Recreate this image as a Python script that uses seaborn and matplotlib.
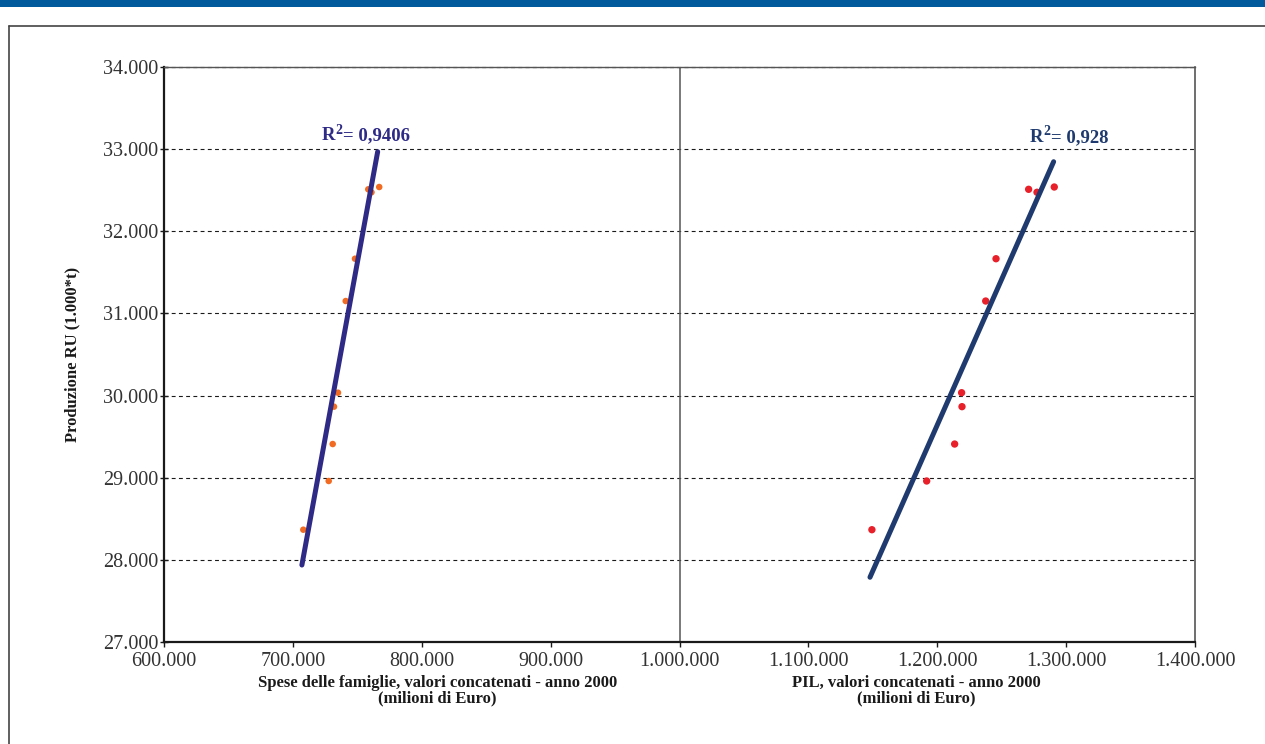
import matplotlib
matplotlib.use("Agg")
import matplotlib.pyplot as plt
from matplotlib.ticker import FuncFormatter, MultipleLocator
from matplotlib.lines import Line2D
from matplotlib.patches import Rectangle
import seaborn as sns
import pandas as pd

# Waste production (thousand tonnes) per year, shared by both series
produzione = [28367, 28960, 29410, 29865, 30035, 31151, 31666, 32511, 32475, 32539]
# Household spending, chained values, base year 2000 (million euro)
spese_famiglie = [708100, 727800, 730900, 731900, 735000, 741000, 748200, 758500, 761000, 767000]
# GDP, chained values, base year 2000 (million euro)
pil = [1149300, 1191800, 1213500, 1219200, 1218900, 1237600, 1245600, 1270900, 1277400, 1290800]

# Linear trend lines (end points of each fitted line)
trend_spese_x = [707000, 765800]
trend_spese_y = [27937, 32969]
trend_pil_x = [1147800, 1290300]
trend_pil_y = [27788, 32847]

r2_spese = "0,9406"
r2_pil = "0,928"

xlabel_spese = "Spese delle famiglie, valori concatenati - anno 2000\n(milioni di Euro)"
xlabel_pil = "PIL, valori concatenati - anno 2000\n(milioni di Euro)"
ylabel = "Produzione RU (1.000*t)"

sns.set_theme(style="white")
plt.rcParams["font.family"] = ["Liberation Serif", "DejaVu Serif"]

df_spese = pd.DataFrame({"x": spese_famiglie, "y": produzione})
df_pil = pd.DataFrame({"x": pil, "y": produzione})
df_ts = pd.DataFrame({"x": trend_spese_x, "y": trend_spese_y})
df_tp = pd.DataFrame({"x": trend_pil_x, "y": trend_pil_y})

fig = plt.figure(figsize=(12.65, 7.44), dpi=100)
ax = fig.add_axes([164 / 1265, 1 - 642 / 744, 1031 / 1265, 575 / 744])

ax.set_xlim(600000, 1400000)
ax.set_ylim(27000, 34000)
ax.xaxis.set_major_locator(MultipleLocator(100000))
ax.yaxis.set_major_locator(MultipleLocator(1000))
fmt = FuncFormatter(lambda v, p: f"{v:,.0f}".replace(",", "."))
ax.xaxis.set_major_formatter(fmt)
ax.yaxis.set_major_formatter(fmt)

# Dashed horizontal grid
grid_style = dict(color="#1a1a1a", linewidth=0.8, linestyle=(0, (3.5, 3.0)))
ax.yaxis.grid(True, zorder=1, **grid_style)
ax.xaxis.grid(False)
ax.set_axisbelow(True)
ax.axhline(34000, clip_on=False, zorder=2, **grid_style)

# Separator between the two comparisons
ax.axvline(1000000, color="#555555", linewidth=1.1, zorder=1)

sns.scatterplot(data=df_spese, x="x", y="y", ax=ax, color="#f26b22", s=22,
                edgecolor="none", zorder=3, legend=False)
sns.scatterplot(data=df_pil, x="x", y="y", ax=ax, color="#e8202a", s=28,
                edgecolor="none", zorder=3, legend=False)
sns.lineplot(data=df_ts, x="x", y="y", ax=ax, color="#2e2a85", linewidth=3.6,
             zorder=4, legend=False)
sns.lineplot(data=df_tp, x="x", y="y", ax=ax, color="#1e3a6e", linewidth=3.6,
             zorder=4, legend=False)


def r2_label(x, y, value, color):
    """Bold 'R' with a raised '2', followed by '= value'."""
    kw = dict(color=color, fontweight="bold", ha="left", va="baseline",
              textcoords="offset points")
    ax.annotate("R", xy=(x, y), xytext=(0, 0), fontsize=13.5, **kw)
    ax.annotate("2", xy=(x, y), xytext=(9.9, 4.6), fontsize=10, **kw)
    ax.annotate("= " + value, xy=(x, y), xytext=(15.2, 0), fontsize=13.5, **kw)


r2_label(722600, 33110, r2_spese, "#2e2a85")
r2_label(1271900, 33090, r2_pil, "#1e3a6e")

ax.set_xlabel("")
ax.set_ylabel("")
ax.text(812000, -0.057, xlabel_spese, transform=ax.get_xaxis_transform(),
        ha="center", va="top", fontsize=12, fontweight="bold", color="#1a1a1a",
        linespacing=0.95)
ax.text(1184000, -0.057, xlabel_pil, transform=ax.get_xaxis_transform(),
        ha="center", va="top", fontsize=12, fontweight="bold", color="#1a1a1a",
        linespacing=0.95)
ax.text(-0.089, 0.5, ylabel, transform=ax.transAxes, rotation=90,
        ha="center", va="center", fontsize=12, fontweight="bold", color="#1a1a1a")

# Spines
ax.spines["left"].set_color("#1a1a1a")
ax.spines["left"].set_linewidth(1.6)
ax.spines["bottom"].set_color("#1a1a1a")
ax.spines["bottom"].set_linewidth(1.6)
ax.spines["top"].set_color("#555555")
ax.spines["top"].set_linewidth(1.0)
ax.spines["right"].set_color("#555555")
ax.spines["right"].set_linewidth(1.2)

ax.tick_params(axis="y", which="major", direction="inout", length=6, width=1,
               color="#1a1a1a", labelsize=14.5, labelcolor="#333333", pad=1, left=True)
ax.tick_params(axis="x", which="major", direction="out", length=3.5, width=1,
               color="#1a1a1a", labelsize=14.5, labelcolor="#333333", pad=4, bottom=True)

# Page frame and header band
fig.patches.append(Rectangle((0, 1 - 7 / 744), 1, 7 / 744, transform=fig.transFigure,
                             facecolor="#005a9c", edgecolor="none"))
fig.lines.append(Line2D([9 / 1265, 9 / 1265], [0, 1 - 26 / 744], transform=fig.transFigure,
                        color="#444444", linewidth=1.2))
fig.lines.append(Line2D([9 / 1265, 1], [1 - 26 / 744, 1 - 26 / 744], transform=fig.transFigure,
                        color="#444444", linewidth=1.2))

fig.savefig("out.png", dpi=100)
